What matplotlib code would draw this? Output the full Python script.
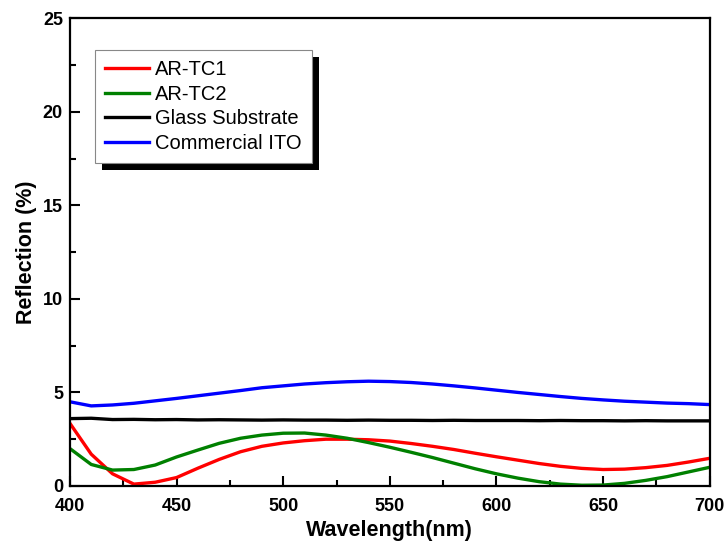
import matplotlib
matplotlib.use("Agg")
import matplotlib.pyplot as plt
from matplotlib.patches import Rectangle
from matplotlib.ticker import MultipleLocator

# wavelength grid (nm)
wavelength = [400, 410, 420, 430, 440, 450, 460, 470, 480, 490, 500,
              510, 520, 530, 540, 550, 560, 570, 580, 590, 600,
              610, 620, 630, 640, 650, 660, 670, 680, 690, 700]

# reflection values (%)
ar_tc1 = [3.35, 1.70, 0.65, 0.10, 0.20, 0.45, 0.95, 1.42, 1.83, 2.12, 2.30,
          2.42, 2.50, 2.50, 2.47, 2.40, 2.27, 2.12, 1.95, 1.75, 1.56,
          1.38, 1.20, 1.05, 0.94, 0.88, 0.90, 0.98, 1.10, 1.28, 1.48]
ar_tc2 = [2.00, 1.15, 0.85, 0.88, 1.12, 1.55, 1.92, 2.28, 2.55, 2.72, 2.82,
          2.83, 2.72, 2.55, 2.32, 2.07, 1.80, 1.52, 1.22, 0.92, 0.65,
          0.42, 0.23, 0.10, 0.04, 0.05, 0.14, 0.30, 0.50, 0.75, 1.00]
glass = [3.60, 3.62, 3.55, 3.56, 3.54, 3.55, 3.53, 3.54, 3.53, 3.52, 3.53,
         3.52, 3.52, 3.51, 3.52, 3.51, 3.51, 3.50, 3.51, 3.50, 3.50,
         3.50, 3.49, 3.50, 3.49, 3.49, 3.48, 3.49, 3.48, 3.48, 3.48]
ito = [4.50, 4.28, 4.33, 4.42, 4.55, 4.68, 4.82, 4.96, 5.10, 5.25, 5.35,
       5.45, 5.52, 5.57, 5.60, 5.58, 5.53, 5.45, 5.35, 5.24, 5.12,
       5.00, 4.89, 4.78, 4.68, 4.60, 4.53, 4.48, 4.43, 4.40, 4.35]

labels = ["AR-TC1", "AR-TC2", "Glass Substrate", "Commercial ITO"]
colors = ["#ff0000", "#008000", "#000000", "#0000ff"]

plt.rcParams['font.family'] = ['Liberation Sans', 'DejaVu Sans']

fig = plt.figure(figsize=(7.28, 5.51), dpi=100)
ax = fig.add_axes([0.096, 0.118, 0.879, 0.849])

for ys, lab, c in zip([ar_tc1, ar_tc2, glass, ito], labels, colors):
    ax.plot(wavelength, ys, color=c, lw=2.4, label=lab)

ax.set_xlim(400, 700)
ax.set_ylim(0, 25)
ax.xaxis.set_major_locator(MultipleLocator(50))
ax.xaxis.set_minor_locator(MultipleLocator(25))
ax.yaxis.set_major_locator(MultipleLocator(5))
ax.yaxis.set_minor_locator(MultipleLocator(2.5))
ax.tick_params(which='both', direction='in', width=1.5, top=False, right=False)
ax.tick_params(which='major', length=7, labelsize=13)
ax.tick_params(axis='x', which='major', pad=9)
ax.tick_params(axis='y', which='major', pad=5)
ax.tick_params(which='minor', length=4)
for lbl in ax.get_xticklabels() + ax.get_yticklabels():
    lbl.set_fontweight('bold')
for sp in ax.spines.values():
    sp.set_linewidth(1.6)

ax.set_xlabel("Wavelength(nm)", fontsize=15.5, fontweight='bold', labelpad=3)
ax.set_ylabel("Reflection (%)", fontsize=15.5, fontweight='bold', labelpad=4)

leg = ax.legend(loc='upper left', bbox_to_anchor=(0.039, 0.932), fontsize=14.5,
                frameon=True, fancybox=False, edgecolor='#888888',
                facecolor='white', framealpha=1,
                borderaxespad=0, borderpad=0.5, labelspacing=0.28,
                handlelength=2.2, handletextpad=0.3)
leg.get_frame().set_linewidth(0.8)
leg.set_zorder(6)

# black drop shadow behind the legend box
fig.canvas.draw()
bb = leg.get_window_extent()
shadow = Rectangle((bb.x0 + 7, bb.y0 - 7), bb.width, bb.height,
                   transform=None, facecolor='black', edgecolor='none',
                   zorder=5, clip_on=False)
ax.add_artist(shadow)

fig.savefig("out.png", dpi=100)
